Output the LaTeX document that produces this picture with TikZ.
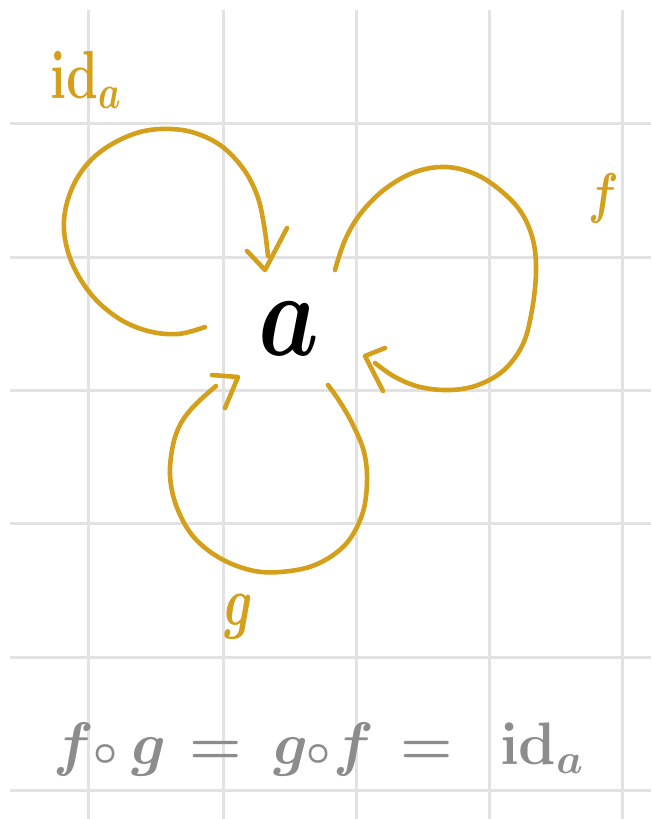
\RequirePackage{fix-cm}
\documentclass[tikz,border=0pt]{standalone}
\definecolor{gold}{RGB}{212,160,28}
\definecolor{gridgray}{RGB}{226,226,226}
\definecolor{penGray}{RGB}{140,140,140}
\begin{document}
\begin{tikzpicture}[x=1pt,y=-1pt,
  gridline/.style={line width=3pt,color=gridgray},
  loopline/.style={line width=4.6pt,color=gold,line cap=round,line join=round},
  lbl/.style={text=gold,inner sep=0pt},
  eqn/.style={text=penGray,inner sep=0pt,font=\fontsize{60}{60}\selectfont\boldmath}]
\useasboundingbox (0,0) rectangle (651,819);
\fill[white] (0,0) rectangle (651,819);
% grid paper
\foreach \y in {123,257,390,523,657,790} \draw[gridline] (10,\y) -- (651,\y);
\foreach \x in {88,223,356,489,622} \draw[gridline] (\x,10) -- (\x,819);
% object
\node[anchor=base,inner sep=0pt] (a) at (289,355) {\scalebox{0.8}[1]{\fontsize{120}{120}\selectfont\boldmath$a$}};
% id_a loop
\coordinate (ida-s) at (205,327);
\coordinate (ida-e) at (268,256);
\coordinate (ida-t) at (265,270);
\draw[loopline] plot[smooth,tension=0.6] coordinates {(ida-s) (178,334) (148,331) (118,318) (90,293) (70,258) (64,220) (75,182) (100,152) (140,132) (182,130) (217,143) (242,167) (257,195) (264,225) (ida-e)};
\draw[loopline] (247,251) -- (ida-t) -- (287,228);
% f loop
\coordinate (f-s) at (335,270);
\coordinate (f-e) at (375,363);
\coordinate (f-t) at (365,356);
\draw[loopline] plot[smooth,tension=0.6] coordinates {(f-s) (345,240) (361,213) (385,189) (415,172) (446,167) (475,174) (500,190) (521,212) (533,240) (536,272) (532,310) (523,344) (504,370) (478,385) (450,390) (420,387) (395,377) (f-e)};
\draw[loopline] (385,348) -- (f-t) -- (383,391);
% g loop
\coordinate (g-s) at (328,385);
\coordinate (g-e) at (216,386);
\coordinate (g-t) at (238,377);
\draw[loopline] plot[smooth,tension=0.6] coordinates {(g-s) (340,402) (353,425) (364,452) (367,482) (362,515) (345,545) (315,565) (280,572) (250,570) (218,557) (192,535) (176,505) (170,475) (173,445) (181,423) (195,405) (g-e)};
\draw[loopline] (212,375) -- (g-t) -- (225,408);
% labels
\node[lbl,anchor=base west] (lid) at (50,98) {\scalebox{0.75}[1]{\fontsize{68}{68}\selectfont\boldmath$\mathbf{id}_a$}};
\node[lbl,anchor=base] (lf) at (604,212) {\scalebox{0.8}[1]{\fontsize{56}{56}\selectfont\boldmath$f$}};
\node[lbl,anchor=base] (lg) at (239,625) {\scalebox{0.7}[1]{\fontsize{70}{70}\selectfont\boldmath$g$}};
% equation
\node[eqn,anchor=base west] (eq) at (53,764) {\rlap{$f$}\hspace{40pt}\rlap{$\scriptstyle\circ$}\hspace{38pt}\rlap{$g$}\hspace{58pt}\rlap{$=$}\hspace{84pt}\rlap{$g$}\hspace{33pt}\rlap{$\scriptstyle\circ$}\hspace{27pt}\rlap{$f$}\hspace{67pt}\rlap{$=$}\hspace{100pt}$\mathbf{id}_a$};
\end{tikzpicture}
\end{document}
